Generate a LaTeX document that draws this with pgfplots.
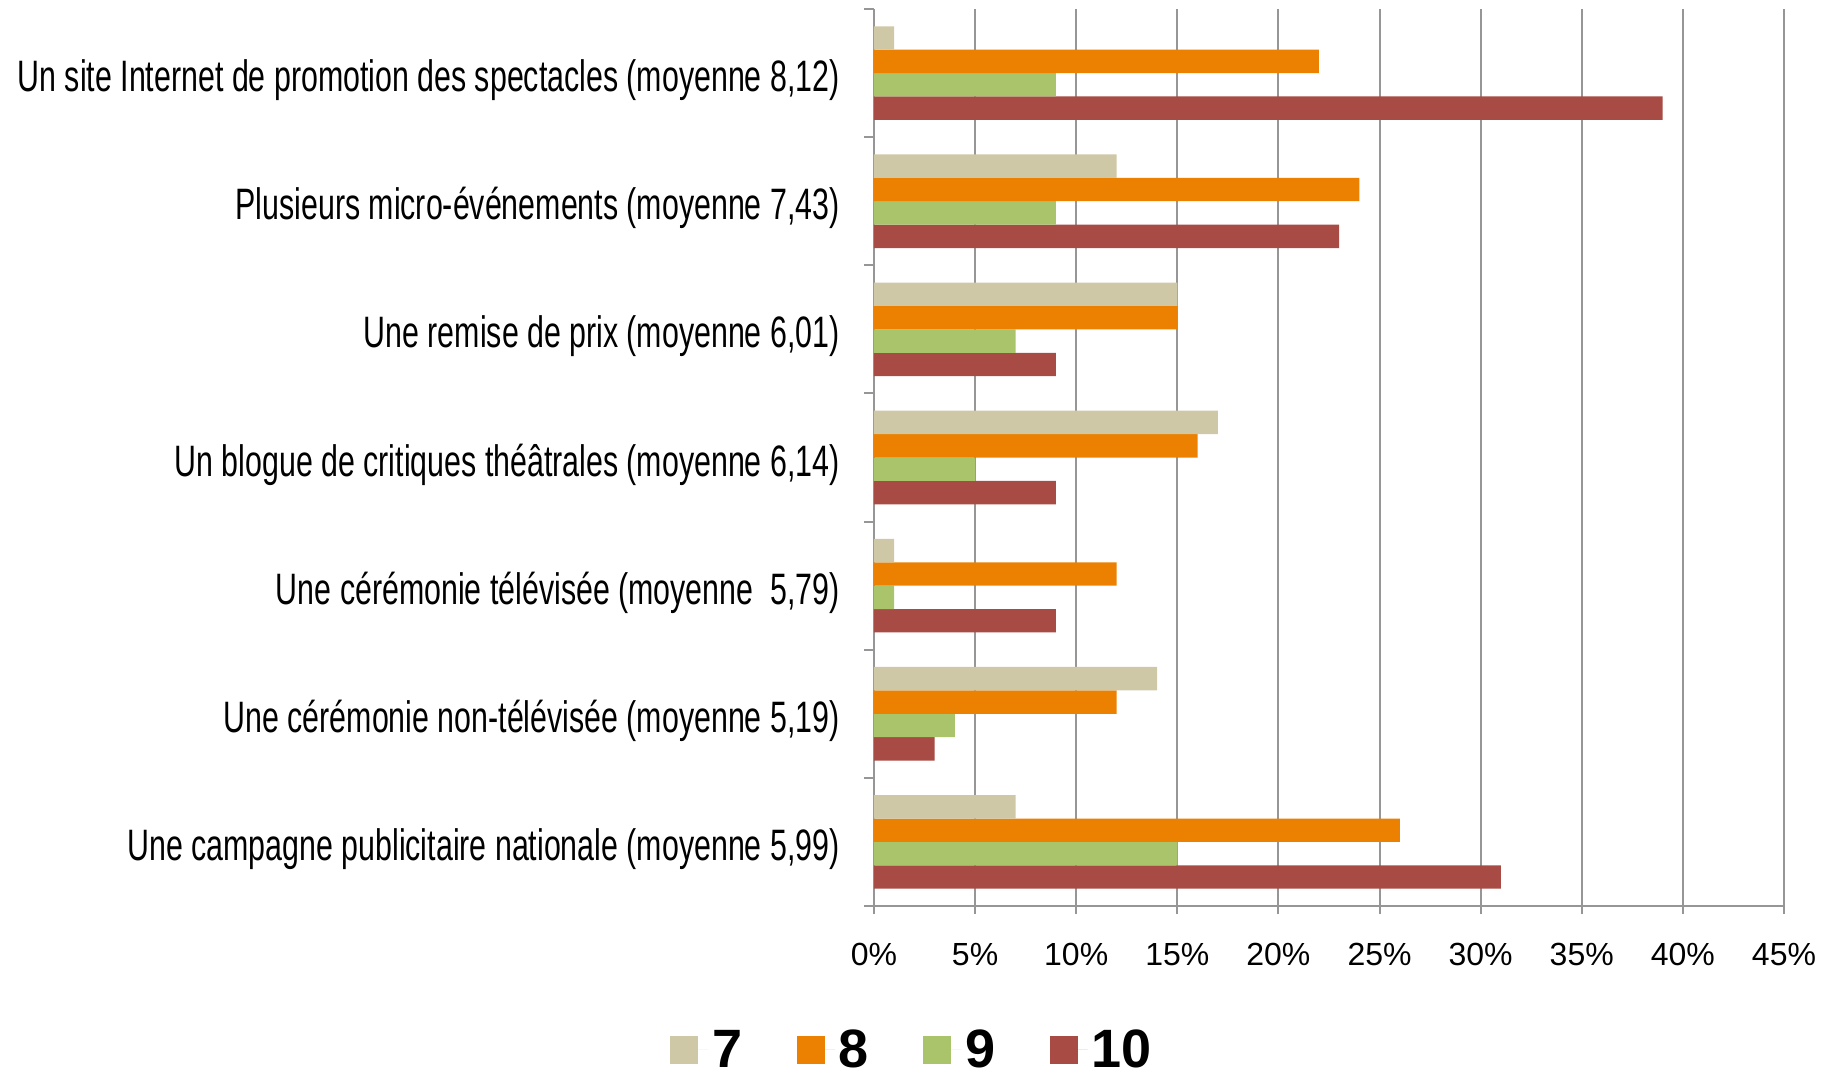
\documentclass[border=0pt]{standalone}
\usepackage{pgfplots}
\pgfplotsset{compat=1.18}
\usepackage{pgfplotstable}
\usepackage{fontspec}
\setmainfont{Liberation Sans}
\newfontfamily\condfont[FakeStretch=0.69]{Liberation Sans}
\definecolor{c7}{RGB}{207,200,166}
\definecolor{c8}{RGB}{236,128,0}
\definecolor{c9}{RGB}{170,196,108}
\definecolor{c10}{RGB}{168,75,69}
\definecolor{gridgray}{RGB}{150,150,150}
\pgfplotstableread{
y s7 s8 s9 s10
0 1 22 9 39
1 12 24 9 23
2 15 15 7 9
3 17 16 5 9
4 1 12 1 9
5 14 12 4 3
6 7 26 15 31
}\datatable
\begin{document}
\begin{tikzpicture}
\useasboundingbox (-437pt,-84.5pt) rectangle (481.5pt,453pt);
\begin{axis}[
  at={(0,0)}, anchor=south west,
  scale only axis,
  width=455pt, height=448.5pt,
  xbar=0pt, bar width=11.7pt,
  xmin=0, xmax=45,
  ymin=-0.5, ymax=6.5,
  y dir=reverse,
  axis x line*=bottom,
  axis y line*=left,
  axis line style={gridgray, line width=1pt},
  xtick={0,5,...,45},
  xticklabels={0\%,5\%,10\%,15\%,20\%,25\%,30\%,35\%,40\%,45\%},
  xmajorgrids,
  major grid style={gridgray, line width=1pt},
  tick align=outside,
  x tick style={gridgray, line width=1pt},
  major tick length=4pt,
  ytick={0,...,6},
  yticklabels={
    {Un site Internet de promotion des spectacles (moyenne 8,12)},
    {Plusieurs micro-événements (moyenne 7,43)},
    {Une remise de prix (moyenne 6,01)},
    {Un blogue de critiques théâtrales (moyenne 6,14)},
    {Une cérémonie télévisée (moyenne\ \ 5,79)},
    {Une cérémonie non-télévisée (moyenne 5,19)},
    {Une campagne publicitaire nationale (moyenne 5,99)}},
  major y tick style={draw=none},
  minor ytick={-0.5,0.5,...,6.5},
  minor y tick style={gridgray, line width=1pt},
  minor tick length=5pt,
  y tick label style={font=\condfont\fontsize{22}{22}\selectfont, anchor=east, inner sep=0pt, xshift=-13pt, yshift=-3.5pt},
  x tick label style={font=\fontsize{16}{16}\selectfont, anchor=north, inner sep=0pt, yshift=-14.2pt},
  legend style={at={(0.043,-0.1605)}, anchor=center, draw=none, fill=none,
    legend columns=-1,
    font=\bfseries\fontsize{27}{27}\selectfont,
    /tikz/every even column/.append style={column sep=25.2pt}},
  legend image code/.code={\fill[#1] (0pt,-7pt) rectangle (14pt,7pt); \path (14pt,0pt) -- (19pt,0pt);},
  reverse legend,
]
\addplot[fill=c10, draw=none] table[x=s10, y=y] {\datatable};
\addplot[fill=c9, draw=none] table[x=s9, y=y] {\datatable};
\addplot[fill=c8, draw=none] table[x=s8, y=y] {\datatable};
\addplot[fill=c7, draw=none] table[x=s7, y=y] {\datatable};
\legend{10,9,8,7}
\end{axis}
\end{tikzpicture}
\end{document}
